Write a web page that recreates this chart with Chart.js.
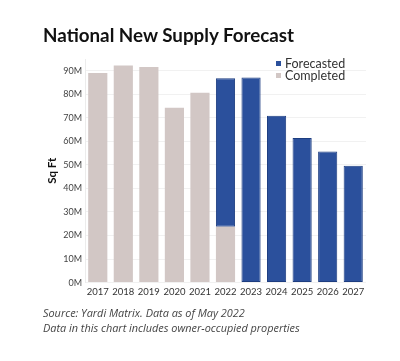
<!DOCTYPE html>
<html>
<head>
<meta charset="utf-8">
<script src="https://cdn.jsdelivr.net/npm/chart.js@4"></script>
<style>
  html, body { margin: 0; padding: 0; background: #fff; }
  #wrap { position: relative; width: 400px; height: 361px; overflow: hidden; }
  #chart { position: absolute; left: 0; top: 0; }
  .title { position: absolute; left: 43px; top: 23px; font: 700 18.8px Lato, sans-serif; color: #111; white-space: nowrap; }
  .legend { position: absolute; left: 276px; top: 58px; font: 400 12.5px Lato, sans-serif; color: #333; line-height: 12px; }
  .legend span { display: inline-block; width: 5px; height: 5px; margin-right: 4px; vertical-align: 2px; }
  .note { position: absolute; left: 43px; font: italic 400 10.9px "Open Sans", sans-serif; color: #444; white-space: nowrap; }
</style>
</head>
<body>
<div id="wrap">
  <canvas id="chart" width="400" height="361"></canvas>
  <div class="title">National New Supply Forecast</div>
  <div class="legend">
    <div><span style="background:#2b509c"></span>Forecasted</div>
    <div><span style="background:#d2c7c5"></span>Completed</div>
  </div>
  <div class="note" style="top:305px">Source: Yardi Matrix. Data as of May 2022</div>
  <div class="note" style="top:320px">Data in this chart includes owner-occupied properties</div>
</div>
<script>
// Datos (millones de pies cuadrados)
const years = ['2017', '2018', '2019', '2020', '2021', '2022', '2023', '2024', '2025', '2026', '2027'];
const completed = [89, 92.2, 91.6, 74.3, 80.7, 23.7, null, null, null, null, null];
const forecasted = [null, null, null, null, null, 63.1, 87.1, 70.9, 61.4, 55.7, 49.6];
const yTicks = [0, 10, 20, 30, 40, 50, 60, 70, 80, 90];

const ctx = document.getElementById('chart').getContext('2d');
new Chart(ctx, {
  type: 'bar',
  data: {
    labels: years,
    datasets: [
      { label: 'Completed', data: completed, backgroundColor: '#d2c7c5', borderWidth: 0 },
      { label: 'Forecasted', data: forecasted, backgroundColor: '#2b509c', borderColor: '#1d3d80', borderWidth: 1, borderSkipped: false }
    ]
  },
  options: {
    responsive: false,
    animation: false,
    layout: { padding: { left: 40, right: 34, top: 59, bottom: 59 } },
    datasets: { bar: { barPercentage: 0.75, categoryPercentage: 1 } },
    plugins: { legend: { display: false }, tooltip: { enabled: false } },
    scales: {
      x: {
        stacked: true,
        grid: { display: false, drawTicks: false },
        border: { display: false },
        ticks: { padding: 4, color: '#333', font: { family: 'Lato', size: 9.5 }, maxRotation: 0, autoSkip: false }
      },
      y: {
        stacked: true,
        min: 0,
        max: 95,
        afterBuildTicks: s => { s.ticks = yTicks.map(v => ({ value: v })); },
        afterFit: s => { s.width = 45; },
        grid: { color: '#f1f1f1', drawTicks: false },
        border: { display: true, color: '#ececec' },
        ticks: { padding: 3, color: '#444', font: { family: 'Lato', size: 9 }, callback: v => v + 'M' },
        title: { display: true, text: 'Sq Ft', color: '#111', padding: { top: 5, bottom: 0 }, font: { family: 'Lato', size: 11.5, weight: 'bold' } }
      }
    }
  }
});
</script>
</body>
</html>
